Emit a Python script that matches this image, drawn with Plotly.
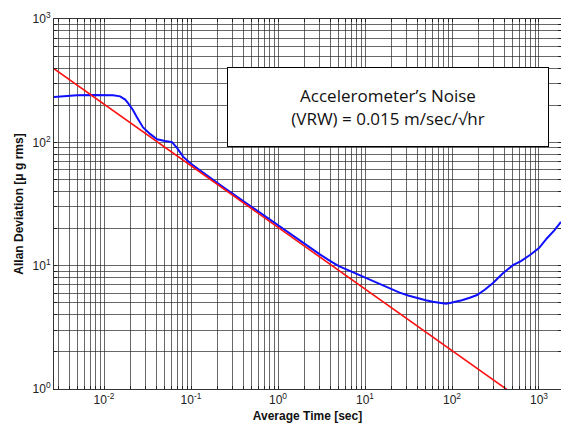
import numpy as np
import plotly.graph_objects as go

blue_tau = [0.0026, 0.0035, 0.0049, 0.0075, 0.0105, 0.0127, 0.0153, 0.0175, 0.0189, 0.0215,
            0.0239, 0.0281, 0.0338, 0.0407, 0.0502, 0.0605, 0.069, 0.081, 0.1, 0.125, 0.15,
            0.2, 0.25, 0.3, 0.366, 0.5, 0.7, 1.0, 1.3, 1.5, 2.0, 2.5, 3.0, 4.0, 5.0, 6.2,
            8.0, 11.4, 15.0, 19.4, 25.0, 32.0, 39.6, 50.0, 60.0, 72.8, 85.0, 94.8, 110.0,
            130.0, 160.0, 194.0, 240.0, 296.0, 380.0, 502.0, 620.0, 788.0, 1000.0, 1236.0, 1500.0, 1790.0]
blue_adev = [233, 236, 241, 242, 242, 241, 236, 222, 208, 183,
             160, 132, 117, 106, 102.6, 100.5, 90, 76.5, 67, 59.5, 54.5,
             47, 42, 38.4, 34.8, 29.8, 25.2, 21.1, 18.5, 17.3, 15.0, 13.5, 12.4, 10.9, 9.9, 9.3,
             8.6, 7.8, 7.1, 6.55, 6.05, 5.7, 5.46, 5.25, 5.1, 4.98, 4.92, 4.98, 5.1,
             5.25, 5.5, 5.78, 6.4, 7.23, 8.6, 10.1, 10.9, 12.2, 13.9, 16.7, 19.3, 22.6]

# Fitted velocity random walk line (slope -1/2)
red_tau = [0.0026, 465.0]
red_adev = [400.0, 0.95]

x_decades = [-3, -2, -1, 0, 1, 2, 3]
y_decades = [0, 1, 2, 3]


def sup(k):
    return "10<sup>%d</sup>" % k


def log_ticks(decades):
    vals, texts = [], []
    for k in decades:
        for m in range(1, 10):
            vals.append(m * 10.0 ** k)
            texts.append(sup(k) if m == 1 else "")
    return vals, texts


xv, xt = log_ticks(x_decades)
yv, yt = log_ticks(y_decades)

fig = go.Figure()
fig.add_trace(go.Scatter(x=blue_tau, y=blue_adev, mode="lines",
                         line=dict(color="#1010ff", width=2), showlegend=False))
fig.add_trace(go.Scatter(x=red_tau, y=red_adev, mode="lines",
                         line=dict(color="#ff1010", width=1.6), showlegend=False))

axis_common = dict(showline=True, linecolor="#333", linewidth=1, mirror="ticks",
                   ticks="inside", ticklen=3, tickcolor="#222",
                   showgrid=True, gridcolor="rgba(40,40,40,0.7)", gridwidth=1,
                   zeroline=False, automargin=False,
                   tickfont=dict(family="Liberation Sans, Arial, sans-serif", size=12, color="#222"))

fig.update_xaxes(type="log", range=[-2.575, 3.253], tickmode="array",
                 tickvals=xv, ticktext=xt,
                 title=dict(text="<b>Average Time [sec]</b>", standoff=5,
                            font=dict(family="Liberation Sans, Arial, sans-serif", size=12, color="#111")),
                 **axis_common)
fig.update_yaxes(type="log", range=[0, 3], tickmode="array",
                 tickvals=yv, ticktext=yt,
                 title=dict(text="<b>Allan Deviation [μ g rms]</b>", standoff=6,
                            font=dict(family="Liberation Sans, Arial, sans-serif", size=12, color="#111")),
                 **axis_common)

fig.add_annotation(xref="paper", yref="paper", x=(388 - 54) / 507, y=1 - (67 - 19) / 370,
                   text="Accelerometer’s Noise<br>(VRW) = 0.015 m/sec/√hr",
                   showarrow=False, align="center",
                   width=318, height=76, bgcolor="white", bordercolor="black", borderwidth=1,
                   font=dict(family="Open Sans, Liberation Sans, sans-serif", size=17, color="#111"))

fig.update_layout(width=561, height=427, margin=dict(l=54, r=0, t=19, b=38),
                  paper_bgcolor="white", plot_bgcolor="white")

fig.write_html("out.html", config={"displayModeBar": False},
               post_script="document.body.style.margin='0px';document.body.style.overflow='hidden';")
